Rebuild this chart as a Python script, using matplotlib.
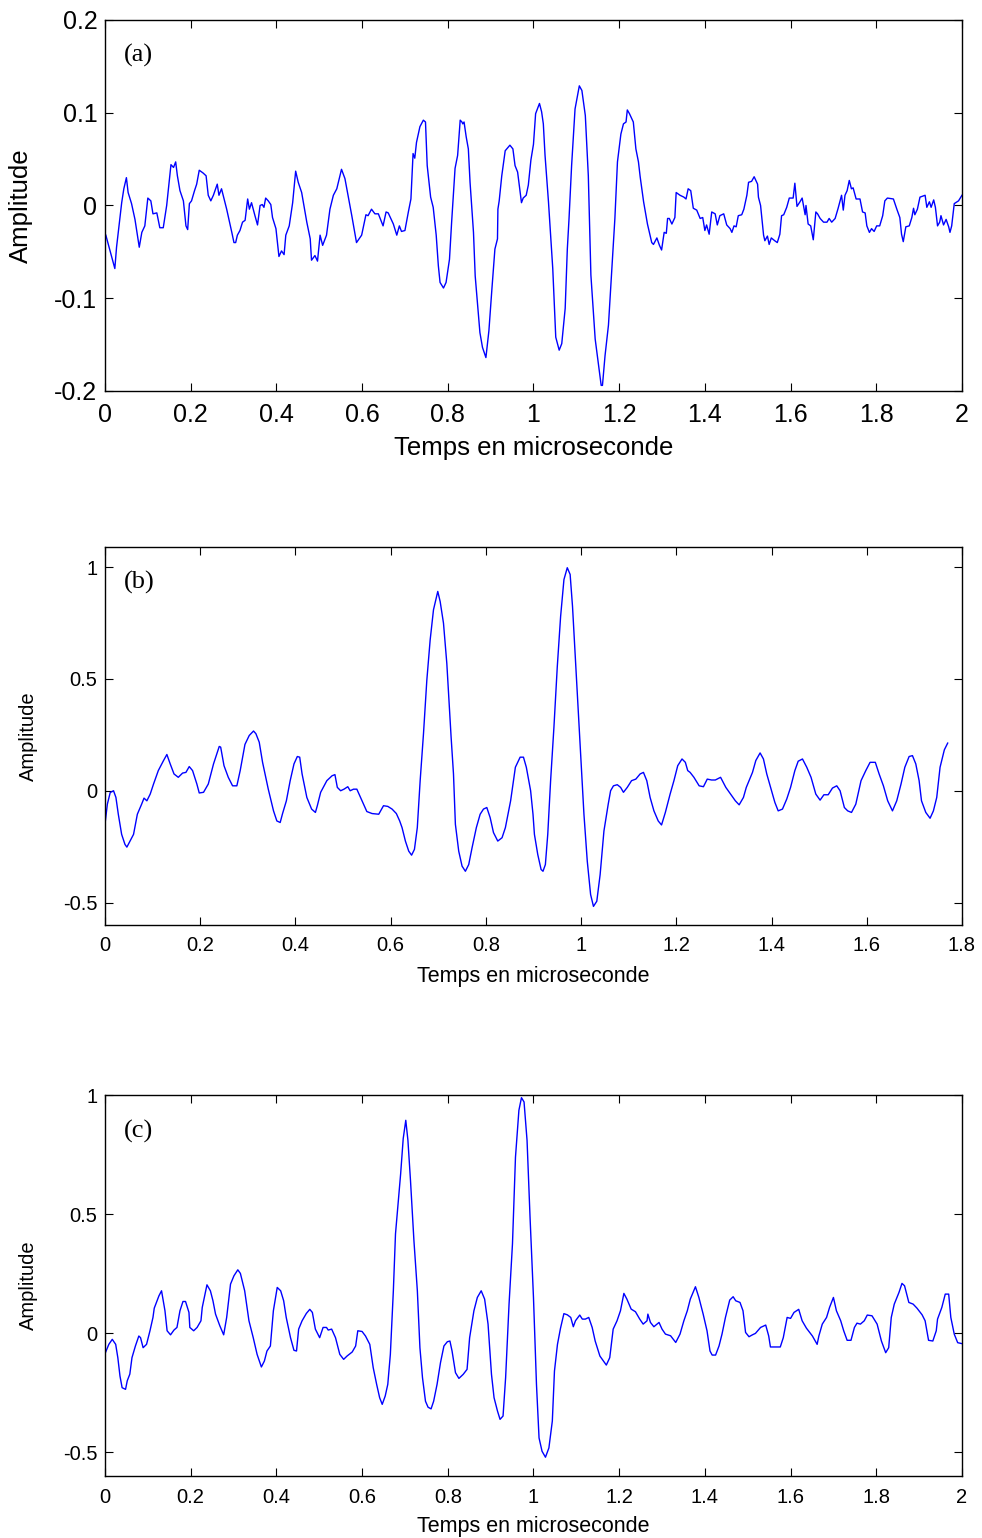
import matplotlib
matplotlib.use('Agg')
import matplotlib.pyplot as plt

plt.rcParams['font.family'] = ['Liberation Sans', 'DejaVu Sans']
plt.rcParams['axes.unicode_minus'] = False

# (a) signal brut, temps en microseconde / amplitude
t_a = [0.002, 0.023, 0.027, 0.039, 0.044, 0.050, 0.054, 0.062, 0.070, 0.080, 0.086, 0.093, 0.100, 0.107,
       0.112, 0.121, 0.128, 0.136, 0.144, 0.154, 0.160, 0.165, 0.169, 0.175, 0.183, 0.189, 0.193, 0.197,
       0.202, 0.209, 0.214, 0.220, 0.229, 0.236, 0.241, 0.247, 0.253, 0.262, 0.266, 0.272, 0.284, 0.296,
       0.301, 0.305, 0.309, 0.315, 0.321, 0.327, 0.333, 0.337, 0.342, 0.350, 0.356, 0.362, 0.367, 0.371,
       0.375, 0.381, 0.387, 0.391, 0.399, 0.406, 0.412, 0.418, 0.422, 0.430, 0.438, 0.445, 0.451, 0.459,
       0.471, 0.479, 0.482, 0.490, 0.496, 0.502, 0.508, 0.517, 0.525, 0.533, 0.541, 0.552, 0.560, 0.568,
       0.576, 0.587, 0.599, 0.609, 0.614, 0.622, 0.630, 0.638, 0.649, 0.656, 0.661, 0.673, 0.681, 0.687,
       0.692, 0.700, 0.708, 0.714, 0.719, 0.723, 0.727, 0.735, 0.743, 0.748, 0.752, 0.760, 0.766, 0.773,
       0.778, 0.782, 0.790, 0.796, 0.804, 0.809, 0.817, 0.823, 0.829, 0.833, 0.835, 0.838, 0.843, 0.848,
       0.852, 0.860, 0.864, 0.869, 0.875, 0.881, 0.889, 0.896, 0.903, 0.910, 0.916, 0.917, 0.920, 0.926,
       0.934, 0.945, 0.952, 0.957, 0.963, 0.972, 0.976, 0.983, 0.988, 0.994, 1.000, 1.005, 1.014, 1.019,
       1.023, 1.027, 1.035, 1.045, 1.052, 1.060, 1.066, 1.074, 1.079, 1.083, 1.089, 1.097, 1.107, 1.113,
       1.121, 1.128, 1.134, 1.144, 1.151, 1.158, 1.161, 1.167, 1.175, 1.183, 1.190, 1.196, 1.204, 1.210,
       1.216, 1.219, 1.224, 1.233, 1.239, 1.245, 1.249, 1.257, 1.266, 1.276, 1.280, 1.288, 1.294, 1.299,
       1.305, 1.310, 1.313, 1.317, 1.323, 1.330, 1.333, 1.342,
       1.351, 1.356, 1.361, 1.367, 1.373, 1.381, 1.389, 1.395, 1.400, 1.404, 1.410, 1.416, 1.424, 1.429,
       1.435, 1.444, 1.451, 1.459, 1.463, 1.468, 1.473, 1.478, 1.486, 1.491, 1.498, 1.502, 1.509, 1.515,
       1.523, 1.525, 1.530, 1.537, 1.540, 1.546, 1.550, 1.555, 1.563, 1.569, 1.575, 1.579, 1.584, 1.591,
       1.597, 1.606, 1.610, 1.615, 1.622, 1.627, 1.634, 1.636, 1.641, 1.647, 1.653, 1.659, 1.663, 1.669,
       1.677, 1.685, 1.690, 1.696, 1.704, 1.711, 1.719, 1.723, 1.727, 1.732, 1.737, 1.742, 1.746, 1.753,
       1.762, 1.768, 1.774, 1.778, 1.784, 1.789, 1.795, 1.801, 1.808, 1.815, 1.820, 1.826, 1.840, 1.848,
       1.855, 1.859, 1.863, 1.869, 1.877, 1.883, 1.887, 1.890, 1.896, 1.902, 1.914, 1.918, 1.924, 1.928,
       1.934, 1.938, 1.943, 1.948, 1.951, 1.957, 1.963, 1.969, 1.972, 1.976, 1.982, 1.992, 2.000]
amp_a = [-0.032, -0.068, -0.045, 0.003, 0.018, 0.030, 0.014, 0.002, -0.015, -0.045, -0.029, -0.022, 0.008, 0.005,
         -0.009, -0.008, -0.024, -0.024, 0.000, 0.044, 0.041, 0.047, 0.032, 0.016, 0.005, -0.022, -0.026, 0.002,
         0.005, 0.016, 0.023, 0.038, 0.035, 0.032, 0.011, 0.005, 0.011, 0.023, 0.011, 0.018, -0.004, -0.029,
         -0.040, -0.040, -0.032, -0.027, -0.018, -0.016, 0.007, -0.004, 0.003, -0.011, -0.021, 0.000, 0.001, -0.002,
         0.008, 0.005, 0.001, -0.013, -0.025, -0.055, -0.049, -0.053, -0.032, -0.022, 0.003, 0.037, 0.025, 0.014,
         -0.018, -0.036, -0.059, -0.054, -0.060, -0.032, -0.043, -0.032, -0.004, 0.011, 0.018, 0.039, 0.029, 0.009,
         -0.011, -0.040, -0.032, -0.010, -0.011, -0.004, -0.009, -0.009, -0.022, -0.007, -0.008, -0.020, -0.032, -0.022,
         -0.028, -0.027, -0.007, 0.007, 0.056, 0.051, 0.068, 0.085, 0.092, 0.090, 0.043, 0.009, -0.002, -0.032,
         -0.065, -0.083, -0.089, -0.083, -0.058, -0.018, 0.040, 0.054, 0.092, 0.090, 0.088, 0.090, 0.074, 0.061,
         0.025, -0.029, -0.076, -0.104, -0.137, -0.153, -0.164, -0.135, -0.090, -0.047, -0.036, -0.004, 0.005, 0.032,
         0.059, 0.065, 0.061, 0.043, 0.036, 0.003, 0.008, 0.011, 0.022, 0.049, 0.066, 0.099, 0.110, 0.101,
         0.088, 0.054, 0.004, -0.068, -0.142, -0.156, -0.149, -0.111, -0.047, -0.014, 0.043, 0.104, 0.129, 0.124,
         0.097, 0.032, -0.075, -0.144, -0.169, -0.194, -0.194, -0.162, -0.129, -0.068, -0.014, 0.047, 0.077, 0.088,
         0.090, 0.103, 0.099, 0.090, 0.061, 0.047, 0.031, 0.004, -0.020, -0.040, -0.042, -0.035, -0.043, -0.048,
         -0.029, -0.030, -0.014, -0.014, -0.020, -0.013, 0.014, 0.011,
         0.009, 0.007, 0.018, 0.016, -0.003, -0.005, -0.014, -0.013, -0.027, -0.021, -0.031, -0.007, -0.009, -0.021,
         -0.011, -0.009, -0.021, -0.025, -0.029, -0.022, -0.023, -0.011, -0.010, -0.004, 0.011, 0.025, 0.026, 0.031,
         0.023, 0.009, 0.000, -0.032, -0.038, -0.033, -0.042, -0.035, -0.038, -0.040, -0.031, -0.011, -0.010, -0.002,
         0.008, 0.008, 0.024, -0.001, 0.004, 0.008, -0.010, 0.000, -0.020, -0.022, -0.037, -0.007, -0.009, -0.014,
         -0.018, -0.018, -0.014, -0.018, -0.014, -0.003, 0.011, -0.005, 0.011, 0.016, 0.027, 0.018, 0.019, 0.007,
         0.007, -0.007, -0.008, -0.022, -0.029, -0.025, -0.028, -0.022, -0.022, -0.011, 0.005, 0.008, 0.007, -0.004,
         -0.013, -0.031, -0.039, -0.023, -0.022, -0.013, -0.003, -0.010, -0.004, 0.009, 0.011, -0.002, 0.004, -0.002,
         0.006, -0.002, -0.022, -0.018, -0.011, -0.021, -0.015, -0.023, -0.029, -0.022, 0.002, 0.005, 0.011]

# (b) signal traite
t_b = [0.000, 0.005, 0.011, 0.018, 0.023, 0.028, 0.035, 0.042, 0.046, 0.051, 0.060, 0.068, 0.077, 0.082,
       0.088, 0.095, 0.102, 0.112, 0.123, 0.130, 0.137, 0.145, 0.154, 0.163, 0.170, 0.177, 0.184, 0.193,
       0.198, 0.207, 0.217, 0.228, 0.240, 0.243, 0.250, 0.259, 0.268, 0.277, 0.284, 0.294, 0.303, 0.312,
       0.317, 0.324, 0.331, 0.343, 0.354, 0.361, 0.368, 0.373, 0.381, 0.389, 0.397, 0.404, 0.409, 0.414,
       0.424, 0.434, 0.442, 0.446, 0.453, 0.466, 0.477, 0.483, 0.488, 0.495, 0.502, 0.510, 0.515, 0.522,
       0.529, 0.540, 0.550, 0.561, 0.575, 0.585, 0.594, 0.603, 0.612, 0.619,
       0.624, 0.631, 0.638, 0.644, 0.650, 0.656, 0.662, 0.669, 0.676, 0.683, 0.690, 0.699, 0.704, 0.711,
       0.718, 0.727, 0.732, 0.736, 0.743, 0.750, 0.757, 0.764, 0.771, 0.780, 0.788, 0.795, 0.802, 0.809,
       0.816, 0.825, 0.834, 0.841, 0.852, 0.862, 0.872, 0.879, 0.885, 0.894, 0.899, 0.902, 0.909, 0.916,
       0.920, 0.925, 0.930, 0.936, 0.943, 0.950, 0.957, 0.964, 0.971, 0.977, 0.982, 0.987, 0.992, 0.999,
       1.006, 1.013, 1.020, 1.026, 1.033, 1.040, 1.048, 1.057, 1.062, 1.068, 1.076, 1.083, 1.089, 1.097,
       1.106, 1.115, 1.124, 1.131, 1.138, 1.145, 1.153, 1.162, 1.169, 1.177, 1.187, 1.195, 1.203, 1.212,
       1.219, 1.224, 1.229,
       1.237, 1.248, 1.257, 1.265, 1.274, 1.282, 1.293, 1.304, 1.314, 1.324, 1.332, 1.341, 1.347, 1.360,
       1.367, 1.376, 1.383, 1.390, 1.398, 1.407, 1.414, 1.423, 1.432, 1.440, 1.449, 1.456, 1.465, 1.474,
       1.483, 1.493, 1.502, 1.510, 1.519, 1.528, 1.537, 1.544, 1.553, 1.560, 1.568, 1.577, 1.588, 1.598,
       1.607, 1.618, 1.626, 1.635, 1.644, 1.654, 1.663, 1.672, 1.680, 1.689, 1.696, 1.703, 1.710, 1.715,
       1.724, 1.733, 1.740, 1.747, 1.754, 1.763, 1.770]
amp_b = [-0.150, -0.060, -0.008, 0.000, -0.030, -0.105, -0.195, -0.240, -0.252, -0.232, -0.195, -0.105, -0.060, -0.033,
         -0.045, -0.015, 0.030, 0.090, 0.135, 0.162, 0.120, 0.075, 0.060, 0.079, 0.082, 0.108, 0.090, 0.030,
         -0.010, -0.007, 0.030, 0.120, 0.198, 0.195, 0.112, 0.060, 0.022, 0.022, 0.090, 0.207, 0.247, 0.267,
         0.255, 0.217, 0.127, 0.007, -0.090, -0.135, -0.142, -0.102, -0.045, 0.045, 0.120, 0.153, 0.150, 0.075,
         -0.030, -0.082, -0.097, -0.067, -0.007, 0.045, 0.067, 0.072, 0.015, 0.000, 0.007, 0.018, 0.000, 0.007,
         0.007, -0.045, -0.093, -0.102, -0.105, -0.067, -0.070, -0.082, -0.102, -0.135,
         -0.165, -0.225, -0.270, -0.288, -0.262, -0.165, 0.045, 0.255, 0.494, 0.674, 0.809, 0.891, 0.846, 0.749,
         0.569, 0.240, 0.075, -0.150, -0.270, -0.337, -0.360, -0.330, -0.255, -0.165, -0.105, -0.082, -0.075, -0.120,
         -0.187, -0.225, -0.210, -0.165, -0.045, 0.105, 0.150, 0.150, 0.105, 0.000, -0.105, -0.195, -0.285, -0.352,
         -0.360, -0.330, -0.195, 0.045, 0.285, 0.554, 0.779, 0.944, 0.997, 0.967, 0.824, 0.629, 0.434, 0.165,
         -0.105, -0.315, -0.464, -0.517, -0.494, -0.375, -0.180, -0.060, 0.000, 0.022, 0.027, 0.015, -0.007, 0.015,
         0.045, 0.052, 0.075, 0.082, 0.045, -0.030, -0.090, -0.135, -0.153, -0.097, -0.015, 0.045, 0.112, 0.142,
         0.127, 0.090, 0.082,
         0.060, 0.022, 0.018, 0.052, 0.048, 0.048, 0.060, 0.015, -0.015, -0.045, -0.063, -0.030, 0.015, 0.082,
         0.135, 0.169, 0.142, 0.075, 0.015, -0.052, -0.090, -0.082, -0.037, 0.015, 0.090, 0.132, 0.142, 0.105,
         0.060, -0.015, -0.042, -0.018, -0.018, 0.012, 0.022, 0.000, -0.075, -0.090, -0.097, -0.060, 0.045, 0.090,
         0.127, 0.127, 0.075, 0.022, -0.045, -0.090, -0.045, 0.030, 0.105, 0.153, 0.157, 0.120, 0.045, -0.045,
         -0.097, -0.123, -0.090, -0.030, 0.105, 0.183, 0.213]

# (c) signal traite
t_c = [0.001, 0.009, 0.017, 0.025, 0.030, 0.035, 0.040, 0.048, 0.052, 0.058, 0.063, 0.071, 0.079, 0.083,
       0.089, 0.097, 0.105, 0.112, 0.115, 0.126, 0.132, 0.140, 0.145, 0.153, 0.161, 0.168, 0.175, 0.182,
       0.188, 0.196, 0.198, 0.207, 0.215, 0.224, 0.227, 0.238, 0.246, 0.252, 0.258, 0.268, 0.277, 0.284,
       0.293, 0.301, 0.310, 0.316, 0.326, 0.336, 0.346, 0.355, 0.365, 0.372, 0.378, 0.386, 0.393, 0.402,
       0.410, 0.417, 0.423, 0.433, 0.441, 0.447, 0.452, 0.460, 0.470, 0.478, 0.484, 0.491, 0.501, 0.509,
       0.517, 0.521, 0.529, 0.538, 0.548, 0.557, 0.565, 0.577, 0.585, 0.590, 0.600, 0.608, 0.618, 0.626,
       0.634, 0.641, 0.647, 0.654, 0.660,
       0.666, 0.673, 0.678, 0.684, 0.690, 0.696, 0.702, 0.707, 0.713, 0.721, 0.729, 0.735, 0.741, 0.748,
       0.754, 0.761, 0.767, 0.775, 0.783, 0.791, 0.799, 0.805, 0.810, 0.818, 0.826, 0.836, 0.845, 0.851,
       0.861, 0.869, 0.878, 0.886, 0.894, 0.902, 0.908, 0.916, 0.922, 0.929, 0.935, 0.943, 0.951, 0.958,
       0.966, 0.972, 0.978, 0.985, 0.992, 1.000, 1.007, 1.013, 1.020, 1.028, 1.036, 1.044, 1.049, 1.056,
       1.063, 1.071, 1.079, 1.087, 1.093, 1.098, 1.108, 1.114, 1.121, 1.129, 1.137, 1.144, 1.155, 1.170,
       1.178, 1.186, 1.195, 1.203, 1.211, 1.218, 1.228, 1.238, 1.248, 1.256, 1.265, 1.267, 1.273, 1.281,
       1.293, 1.300, 1.308, 1.320, 1.332, 1.342,
       1.351, 1.359, 1.366, 1.378, 1.386, 1.396, 1.405, 1.412, 1.417, 1.425, 1.433, 1.440, 1.448, 1.458,
       1.466, 1.472, 1.482, 1.489, 1.495, 1.503, 1.511, 1.518, 1.530, 1.542, 1.549, 1.553, 1.565, 1.576,
       1.583, 1.592, 1.600, 1.608, 1.619, 1.627, 1.637, 1.651, 1.662, 1.666, 1.674, 1.684, 1.691, 1.700,
       1.707, 1.717, 1.724, 1.732, 1.741, 1.749, 1.755, 1.763, 1.772, 1.779, 1.790, 1.802, 1.812, 1.822,
       1.829, 1.835, 1.842, 1.853, 1.860, 1.866, 1.876, 1.886, 1.895, 1.907, 1.914, 1.922, 1.932, 1.940,
       1.943, 1.953, 1.961, 1.969, 1.974, 1.982, 1.990, 2.000]
amp_c = [-0.082, -0.047, -0.026, -0.047, -0.103, -0.180, -0.229, -0.236, -0.200, -0.172, -0.103, -0.054, -0.012, -0.019,
         -0.061, -0.047, 0.010, 0.066, 0.105, 0.157, 0.178, 0.094, 0.010, -0.007, 0.013, 0.024, 0.094, 0.133,
         0.133, 0.087, 0.024, 0.010, 0.024, 0.052, 0.108, 0.203, 0.178, 0.136, 0.080, 0.031, -0.007, 0.066,
         0.206, 0.241, 0.266, 0.251, 0.178, 0.052, -0.019, -0.089, -0.142, -0.117, -0.075, -0.054, 0.094, 0.192,
         0.178, 0.136, 0.066, -0.019, -0.072, -0.075, 0.017, 0.052, 0.083, 0.100, 0.087, 0.017, -0.019, 0.024,
         0.024, 0.013, 0.017, -0.019, -0.089, -0.110, -0.096, -0.079, -0.054, 0.010, 0.007, -0.012, -0.047, -0.145,
         -0.215, -0.271, -0.299, -0.264, -0.215,
         -0.089, 0.178, 0.417, 0.543, 0.669, 0.817, 0.894, 0.810, 0.641, 0.389, 0.178, -0.061, -0.187, -0.286,
         -0.311, -0.318, -0.286, -0.215, -0.124, -0.054, -0.036, -0.033, -0.075, -0.166, -0.190, -0.173, -0.152, -0.019,
         0.094, 0.150, 0.178, 0.143, 0.038, -0.173, -0.271, -0.327, -0.362, -0.348, -0.187, 0.122, 0.375, 0.739,
         0.936, 0.989, 0.971, 0.810, 0.487, 0.150, -0.215, -0.440, -0.496, -0.521, -0.482, -0.369, -0.159, -0.047,
         0.020, 0.082, 0.077, 0.066, 0.027, 0.052, 0.076, 0.059, 0.059, 0.066, 0.024, -0.033, -0.096, -0.134,
         -0.103, 0.017, 0.052, 0.094, 0.167, 0.143, 0.101, 0.090, 0.059, 0.038, 0.052, 0.080, 0.045, 0.027,
         0.045, 0.017, -0.004, -0.011, -0.039, -0.004,
         0.052, 0.094, 0.143, 0.195, 0.150, 0.080, 0.010, -0.075, -0.092, -0.092, -0.054, -0.004, 0.066, 0.139,
         0.153, 0.136, 0.129, 0.094, 0.003, -0.015, -0.007, -0.001, 0.024, 0.034, -0.012, -0.058, -0.058, -0.058,
         -0.019, 0.066, 0.062, 0.087, 0.100, 0.052, 0.021, -0.012, -0.047, -0.012, 0.038, 0.066, 0.108, 0.150,
         0.094, 0.052, 0.010, -0.030, -0.030, 0.024, 0.042, 0.038, 0.052, 0.076, 0.073, 0.038, -0.033, -0.082,
         -0.061, 0.066, 0.122, 0.171, 0.209, 0.199, 0.129, 0.122, 0.105, 0.077, 0.052, -0.030, -0.033, 0.010,
         0.059, 0.108, 0.164, 0.164, 0.066, -0.004, -0.040, -0.044]

# tick values and labels
xt_a = [0, 0.2, 0.4, 0.6, 0.8, 1, 1.2, 1.4, 1.6, 1.8, 2]
xtl_a = ['0', '0.2', '0.4', '0.6', '0.8', '1', '1.2', '1.4', '1.6', '1.8', '2']
yt_a = [-0.2, -0.1, 0, 0.1, 0.2]
ytl_a = ['-0.2', '-0.1', '0', '0.1', '0.2']
xt_b = [0, 0.2, 0.4, 0.6, 0.8, 1, 1.2, 1.4, 1.6, 1.8]
xtl_b = ['0', '0.2', '0.4', '0.6', '0.8', '1', '1.2', '1.4', '1.6', '1.8']
yt_bc = [-0.5, 0, 0.5, 1]
ytl_bc = ['-0.5', '0', '0.5', '1']

fig = plt.figure(figsize=(9.82, 15.38), dpi=100)

# positions of the three panels, measured on the reference
ax_a = fig.add_axes([0.1069, 0.7458, 0.8727, 0.2412])
ax_b = fig.add_axes([0.1069, 0.3986, 0.8727, 0.2458])
ax_c = fig.add_axes([0.1069, 0.0403, 0.8727, 0.2477])

# ax, x, y, xlim, ylim, xticks, xticklabels, yticks, yticklabels, tag,
# tick size, xlabel size, ylabel size, x tick pad
panels = [
    (ax_a, t_a, amp_a, (0, 2), (-0.2, 0.2), xt_a, xtl_a, yt_a, ytl_a, '(a)', 18, 18.5, 18.5, 8.5),
    (ax_b, t_b, amp_b, (0, 1.8), (-0.6, 1.09), xt_b, xtl_b, yt_bc, ytl_bc, '(b)', 14.5, 15.5, 14.5, 8),
    (ax_c, t_c, amp_c, (0, 2), (-0.6, 1.0), xt_a, xtl_a, yt_bc, ytl_bc, '(c)', 14.5, 15.5, 14.5, 8.5),
]

for ax, t, amp, xl, yl, xt, xtl, yt, ytl, tag, fs, xfs, yfs, xpad in panels:
    ax.plot(t, amp, color='#0000ff', linewidth=1.0)
    ax.set_xlim(xl)
    ax.set_ylim(yl)
    ax.set_xticks(xt)
    ax.set_xticklabels(xtl)
    ax.set_yticks(yt)
    ax.set_yticklabels(ytl)
    ax.tick_params(direction='in', top=True, right=True, length=6, width=0.8,
                   labelsize=fs)
    ax.tick_params(axis='x', pad=xpad)
    ax.tick_params(axis='y', pad=5.5)
    for s in ax.spines.values():
        s.set_linewidth(1.0)
    ax.set_xlabel('Temps en microseconde', fontsize=xfs)
    ax.set_ylabel('Amplitude', fontsize=yfs)
    ax.text(0.022, 0.905, tag, transform=ax.transAxes, fontsize=19,
            family='Liberation Serif', va='center', ha='left')

# label positions (axes fraction)
ax_a.xaxis.set_label_coords(0.5, -0.122)
ax_a.yaxis.set_label_coords(-0.084, 0.5)
ax_b.xaxis.set_label_coords(0.5, -0.108)
ax_b.yaxis.set_label_coords(-0.078, 0.5)
ax_c.xaxis.set_label_coords(0.5, -0.104)
ax_c.yaxis.set_label_coords(-0.078, 0.5)

plt.savefig('out.png', dpi=100)
